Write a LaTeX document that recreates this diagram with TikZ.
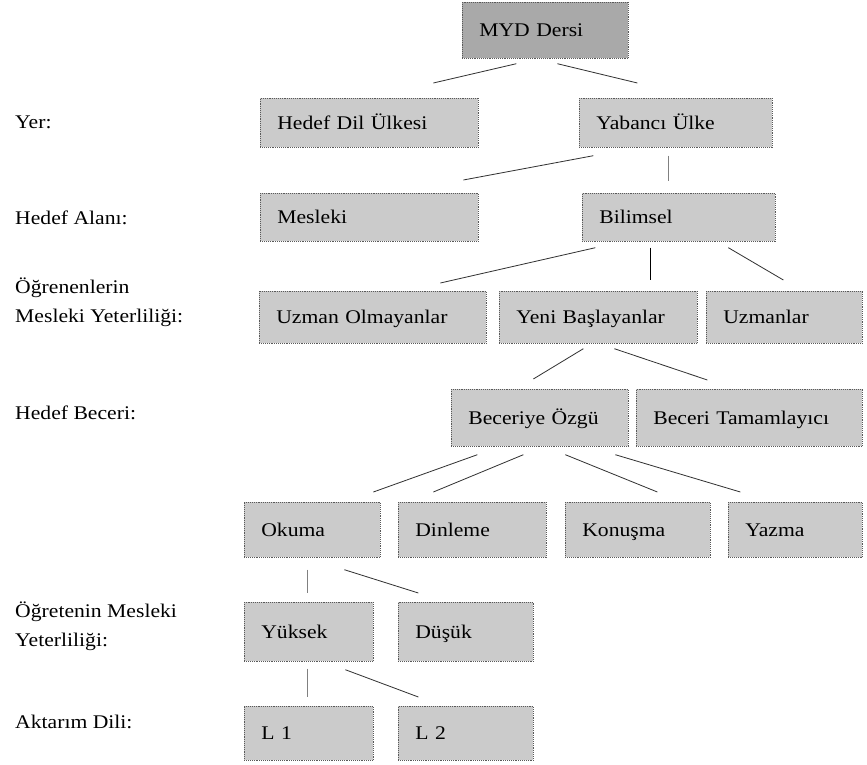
\documentclass[tikz,border=0pt]{standalone}
\usepackage{fontspec}
\setmainfont{Liberation Serif}[FakeStretch=1.12]
\usepackage{tikz}
\definecolor{kutugri}{HTML}{CBCBCB}
\definecolor{koyugri}{HTML}{A9A9A9}
\tikzset{
  kutu/.style={draw=black!65, densely dotted, line width=0.6pt, fill=kutugri, anchor=north west,
    inner xsep=0.51cm, inner ysep=0pt, align=left, text height=0.39cm, text depth=0cm,
    font=\fontsize{16.5}{19}\selectfont},
  etiket/.style={anchor=west, inner sep=0pt, align=left, font=\fontsize{16.5}{25}\selectfont},
  bag/.style={draw=black!80, line width=0.7pt},
  dikbag/.style={draw=black!50, line width=0.7pt}
}
\begin{document}
\begin{tikzpicture}[x=0.03cm,y=-0.03cm]
\useasboundingbox (0,0) rectangle (867,765);
\node [kutu, fill=koyugri, text width=3.96cm, minimum height=1.68cm] (myd) at (462,2) {MYD Dersi};
\node [kutu, text width=5.52cm, minimum height=1.47cm] (hedefdil) at (260,98) {Hedef Dil Ülkesi};
\node [kutu, text width=4.77cm, minimum height=1.47cm] (yabanci) at (579,98) {Yabancı Ülke};
\node [kutu, text width=5.52cm, minimum height=1.44cm] (mesleki) at (260,193) {Mesleki};
\node [kutu, text width=4.77cm, minimum height=1.44cm] (bilimsel) at (582,193) {Bilimsel};
\node [kutu, text width=5.79cm, minimum height=1.56cm] (uzmanolm) at (259,291) {Uzman Olmayanlar};
\node [kutu, text width=4.92cm, minimum height=1.56cm] (yeni) at (499,291) {Yeni Başlayanlar};
\node [kutu, text width=3.66cm, minimum height=1.56cm] (uzmanlar) at (706,291) {Uzmanlar};
\node [kutu, text width=4.29cm, minimum height=1.71cm] (beceriye) at (451,389) {Beceriye Özgü};
\node [kutu, text width=5.76cm, minimum height=1.71cm] (tamamlayici) at (636,389) {Beceri Tamamlayıcı};
\node [kutu, text width=3.06cm, minimum height=1.65cm] (okuma) at (244,502) {Okuma};
\node [kutu, text width=3.42cm, minimum height=1.65cm] (dinleme) at (398,502) {Dinleme};
\node [kutu, text width=3.33cm, minimum height=1.65cm] (konusma) at (565,502) {Konuşma};
\node [kutu, text width=3.00cm, minimum height=1.65cm] (yazma) at (728,502) {Yazma};
\node [kutu, text width=2.85cm, minimum height=1.77cm] (yuksek) at (244,602) {Yüksek};
\node [kutu, text width=3.03cm, minimum height=1.77cm] (dusuk) at (398,602) {Düşük};
\node [kutu, text width=2.85cm, minimum height=1.62cm] (lbir) at (244,706) {L 1};
\node [kutu, text width=3.03cm, minimum height=1.62cm] (liki) at (398,706) {L 2};
\node [etiket] (yer) at (15,122) {Yer:};
\node [etiket] (alan) at (15,218) {Hedef Alanı:};
\node [etiket] (ogrenen) at (15,302) {Öğrenenlerin\\Mesleki Yeterliliği:};
\node [etiket] (beceri) at (15,413) {Hedef Beceri:};
\node [etiket] (ogreten) at (15,626) {Öğretenin Mesleki\\Yeterliliği:};
\node [etiket] (aktarim) at (15,722) {Aktarım Dili:};
\draw [bag] ([shift={(-29,5)}]myd.south) -- ([shift={(64,-15)}]hedefdil.north);
\draw [bag] ([shift={(12,5)}]myd.south) -- ([shift={(-38.5,-15)}]yabanci.north);
\draw [bag] ([shift={(-82.5,8)}]yabanci.south) -- ([shift={(94,-13)}]mesleki.north);
\draw [dikbag] ([shift={(-7.5,8)}]yabanci.south) -- ([shift={(-10.5,-12)}]bilimsel.north);
\draw [bag] ([shift={(-83.5,6)}]bilimsel.south) -- ([shift={(67.5,-8)}]uzmanolm.north);
\draw [bag, draw=black, line width=1pt] ([shift={(-28.5,6)}]bilimsel.south) -- ([shift={(52,-11)}]yeni.north);
\draw [bag] ([shift={(49.5,6)}]bilimsel.south) -- ([shift={(-1,-11)}]uzmanlar.north);
\draw [bag] ([shift={(-15,5)}]yeni.south) -- ([shift={(-6.5,-10)}]beceriye.north);
\draw [bag] ([shift={(16,5)}]yeni.south) -- ([shift={(-42,-9)}]tamamlayici.north);
\draw [bag] ([shift={(-62.5,8)}]beceriye.south) -- ([shift={(61,-10)}]okuma.north);
\draw [bag] ([shift={(-16.5,8)}]beceriye.south) -- ([shift={(-39,-10)}]dinleme.north);
\draw [bag] ([shift={(25.5,8)}]beceriye.south) -- ([shift={(19.5,-10)}]konusma.north);
\draw [bag] ([shift={(75.5,8)}]beceriye.south) -- ([shift={(-55,-10)}]yazma.north);
\draw [dikbag] ([shift={(-5,12)}]okuma.south) -- ([shift={(-1.5,-9)}]yuksek.north);
\draw [bag] ([shift={(32,12)}]okuma.south) -- ([shift={(-47.5,-9)}]dusuk.north);
\draw [dikbag] ([shift={(-1.5,7)}]yuksek.south) -- ([shift={(-1.5,-9)}]lbir.north);
\draw [bag] ([shift={(36.5,8)}]yuksek.south) -- ([shift={(-47.5,-9)}]liki.north);
\end{tikzpicture}
\end{document}
